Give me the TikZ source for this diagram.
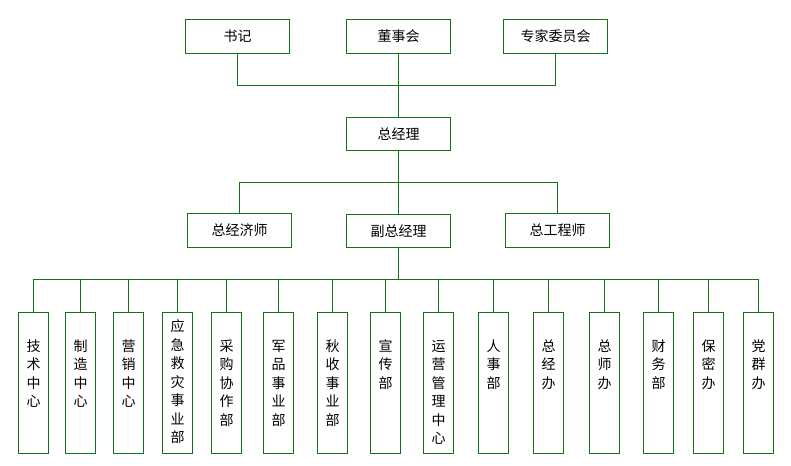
\documentclass[tikz,border=0pt]{standalone}
\usepackage{fontspec}
\setmainfont{Noto Sans CJK SC}
\usepackage{tikz}
\definecolor{linegreen}{RGB}{20,115,20}
\tikzset{
	box/.style={draw=linegreen, line width=1.6bp, minimum width=104bp, minimum height=34bp, inner sep=0pt, font=\fontsize{14bp}{16bp}\selectfont},
	dept/.style={draw=linegreen, line width=1.6bp, minimum width=30bp, minimum height=141bp, inner sep=0pt, font=\fontsize{14bp}{18.5bp}\selectfont},
	link/.style={linegreen, line width=1.6bp}
}
\newcommand{\vlabel}[1]{\parbox[c][126bp][t]{16bp}{\centering #1}}

\begin{document}
\begin{tikzpicture}[x=1bp, y=-1bp]
	\useasboundingbox (0,0) rectangle (791,466);
	%top boxes
	\node[box] (shuji) at (237.5,36.5) {书记};
	\node[box] (dongshi) at (398.5,36.5) {董事会};
	\node[box] (zhuanjia) at (555.5,36.5) {专家委员会};
	\node[box, minimum height=33bp] (zjl) at (398.5,134) {总经理};
	\node[box] (jjs) at (239.5,230.5) {总经济师};
	\node[box, minimum height=33bp] (fzjl) at (398.5,231) {副总经理};
	\node[box] (gcs) at (557.5,230.5) {总工程师};
	%junctions
	\coordinate (j1) at (398.5,85.5);
	\coordinate (j2) at (398.5,182.5);
	\coordinate (j3) at (398.5,279.5);
	%top connectors
	\draw[link] (shuji.south) |- (j1) -| (zhuanjia.south);
	\draw[link] (dongshi.south) -- (zjl.north);
	\draw[link] (jjs.north) |- (j2) -| (gcs.north);
	\draw[link] (zjl.south) -- (fzjl.north);
	\draw[link] (fzjl.south) -- (j3);
	%departments
	\foreach \i/\x/\txt in {1/33.5/{\strut\\技\\术\\中\\心}, 2/80.5/{\strut\\制\\造\\中\\心}, 3/128.5/{\strut\\营\\销\\中\\心},
		4/177.5/{应\\急\\救\\灾\\事\\业\\部}, 5/226.5/{\strut\\采\\购\\协\\作\\部}, 6/278.5/{\strut\\军\\品\\事\\业\\部},
		7/332.5/{\strut\\秋\\收\\事\\业\\部}, 8/385.5/{\strut\\宣\\传\\部}, 9/438.5/{\strut\\运\\营\\管\\理\\中\\心},
		10/493.5/{\strut\\人\\事\\部}, 11/548.5/{\strut\\总\\经\\办}, 12/604.5/{\strut\\总\\师\\办},
		13/658.5/{\strut\\财\\务\\部}, 14/708.5/{\strut\\保\\密\\办}, 15/758.5/{\strut\\党\\群\\办}}
		\node[dept] (d\i) at (\x,383) {\vlabel{\txt}};
	%department connectors
	\draw[link] (d1.north) |- (j3) -| (d15.north);
	\foreach \i in {2,...,14}
		\draw[link] (d\i.north) -- (d\i.north |- j3);
\end{tikzpicture}
\end{document}
